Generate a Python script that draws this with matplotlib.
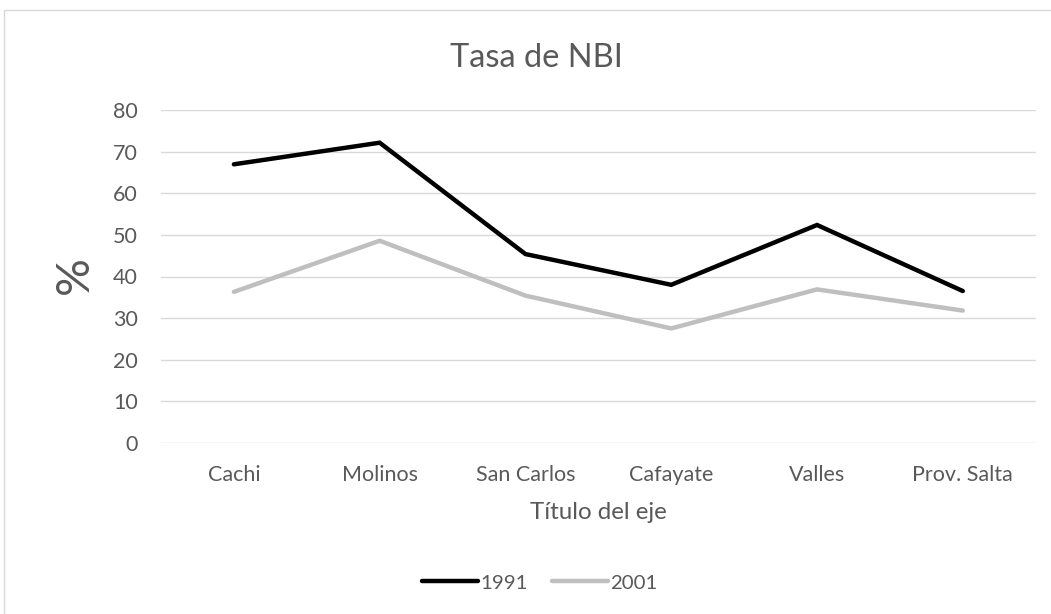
import matplotlib
matplotlib.use("Agg")
import matplotlib.pyplot as plt
from matplotlib.patches import Rectangle

categories = ["Cachi", "Molinos", "San Carlos", "Cafayate", "Valles", "Prov. Salta"]
series_1991 = [67.0, 72.2, 45.4, 38.0, 52.4, 36.5]
series_2001 = [36.3, 48.6, 35.4, 27.5, 36.9, 31.8]
yticks = [0, 10, 20, 30, 40, 50, 60, 70, 80]

plt.rcParams['font.family'] = ['Lato', 'DejaVu Sans']
TXT = '#595959'

fig = plt.figure(figsize=(10.51, 6.14), dpi=100)
W, H = 1051, 614
ax = fig.add_axes([161 / W, 1 - 442.7 / H, (1035.7 - 161) / W, (442.7 - 110.3) / H])

x = list(range(len(categories)))
ax.plot(x, series_1991, color='black', lw=3.2, solid_capstyle='round', solid_joinstyle='miter', label='1991', zorder=3)
ax.plot(x, series_2001, color='#BFBFBF', lw=3.2, solid_capstyle='round', solid_joinstyle='miter', label='2001', zorder=3)

ax.set_xlim(-0.5, len(categories) - 0.5)
ax.set_ylim(0, 80)
ax.set_yticks(yticks)
ax.set_xticks(x)
ax.set_xticklabels(categories)
ax.grid(axis='y', color='#D9D9D9', lw=1.0)
ax.set_axisbelow(True)
for s in ax.spines.values():
    s.set_visible(False)
ax.tick_params(axis='both', length=0, colors=TXT, labelsize=15.5)
ax.tick_params(axis='y', pad=16.5)
ax.tick_params(axis='x', pad=16)

fig.text(536 / W, 1 - 67 / H, 'Tasa de NBI', ha='center', va='baseline', fontsize=23.5, color=TXT)
fig.text(598 / W, 1 - 519 / H, 'Título del eje', ha='center', va='baseline', fontsize=17.4, color=TXT)
fig.text(75 / W, 1 - 275 / H, '%', ha='center', va='center', fontsize=34, color=TXT, rotation=90)

leg = fig.legend(loc='center', bbox_to_anchor=(540 / W, 1 - 583 / H), ncol=2, frameon=False,
                 fontsize=14.7, handlelength=2.75, handletextpad=0.1, columnspacing=1.2)
for t in leg.get_texts():
    t.set_color(TXT)

fig.patches.append(Rectangle((4 / W, -0.05), 1.5, 1.05 - 10 / H, transform=fig.transFigure,
                             fill=False, edgecolor='#D9D9D9', lw=1.0))

fig.savefig('out.png', dpi=100, facecolor='white')
